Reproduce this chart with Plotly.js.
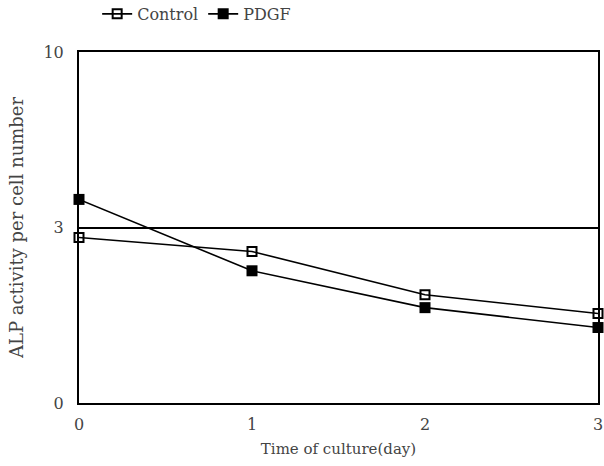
<!DOCTYPE html>
<html>
<head>
<meta charset="utf-8">
<script src="https://cdn.plot.ly/plotly-3.0.1.min.js"></script>
<style>html,body{margin:0;padding:0;background:#fff;}#chart{width:604px;height:466px;}</style>
</head>
<body>
<div id="chart"></div>
<script>
// Data (y in the axis' linear plotting units; tick "10" sits at the top of the box)
var days = [0, 1, 2, 3];
var controlValues = [2.83, 2.59, 1.85, 1.53];
var pdgfValues = [3.48, 2.26, 1.63, 1.29];
var yTickVals = [0, 3, 6];
var yTickText = ["0", "3", "10"];
var xTickVals = [0, 1, 2, 3];
var xTickText = ["0", "1", "2", "3"];

var fam = "DejaVu Serif, Liberation Serif, serif";
var txt = "#444";

var traces = [
  {x: days, y: controlValues, name: "Control", type: "scatter", mode: "lines+markers",
   line: {color: "#000", width: 1.6},
   marker: {symbol: "square-open", size: 9, color: "#000", line: {width: 2, color: "#000"}},
   cliponaxis: false},
  {x: days, y: pdgfValues, name: "PDGF", type: "scatter", mode: "lines+markers",
   line: {color: "#000", width: 1.6},
   marker: {symbol: "square", size: 11, color: "#000"},
   cliponaxis: false}
];

var layout = {
  width: 604, height: 466,
  margin: {l: 79, r: 6, t: 52, b: 63, autoexpand: false},
  paper_bgcolor: "#fff", plot_bgcolor: "#fff",
  font: {family: fam, size: 16, color: txt},
  showlegend: true,
  legend: {orientation: "h", x: 0.035, y: 1.06, xanchor: "left", yanchor: "bottom",
           font: {family: fam, size: 16, color: txt}, itemwidth: 30, bgcolor: "rgba(0,0,0,0)"},
  xaxis: {range: [0, 3], tickvals: xTickVals, ticktext: xTickText,
          showline: true, linecolor: "#000", linewidth: 2, mirror: true,
          showgrid: false, zeroline: false, ticks: "", ticklabelstandoff: 6,
          tickfont: {family: fam, size: 16, color: txt},
          title: {text: "Time of culture(day)", font: {family: fam, size: 15, color: txt}, standoff: 10}},
  yaxis: {range: [0, 6], tickvals: yTickVals, ticktext: yTickText,
          showline: true, linecolor: "#000", linewidth: 2, mirror: true,
          showgrid: true, gridcolor: "#000", gridwidth: 2, zeroline: false,
          ticks: "", ticklabelstandoff: 10,
          tickfont: {family: fam, size: 16, color: txt},
          title: {text: "ALP activity per cell number", font: {family: fam, size: 18, color: txt}, standoff: 15}}
};

Plotly.newPlot("chart", traces, layout, {displayModeBar: false, staticPlot: true});
</script>
</body>
</html>
